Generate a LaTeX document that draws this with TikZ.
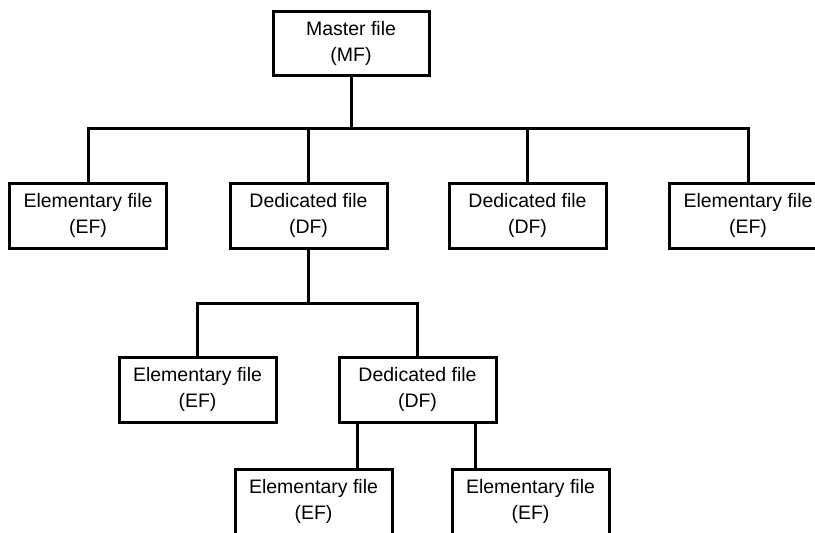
\documentclass[tikz,border=0pt]{standalone}
\usepackage{fontspec}
\setmainfont{Liberation Sans}
\begin{document}
\begin{tikzpicture}[x=1pt,y=-1pt,
  filebox/.style={draw=black, line width=3pt, fill=white, minimum width=157pt, minimum height=65pt,
    inner sep=0pt, align=center, font=\fontsize{19.5}{26}\selectfont},
  link/.style={line width=3pt, line cap=rect}]
\useasboundingbox (0,0) rectangle (815,533);
\clip (0,0) rectangle (815,533);
% junctions
\coordinate (j1) at (351,128);
\coordinate (j2) at (308.5,303);
\coordinate (c1) at (357,0);
\coordinate (c2) at (475,0);
% nodes
\node[filebox, minimum width=156pt, minimum height=64pt] (mf) at (351,43) {Master file\\(MF)};
\node[filebox] (ef1) at (88,215.5) {Elementary file\\(EF)};
\node[filebox] (df1) at (308.5,215.5) {Dedicated file\\(DF)};
\node[filebox] (df2) at (527.5,215.5) {Dedicated file\\(DF)};
\node[filebox] (ef2) at (748,215.5) {Elementary file\\(EF)};
\node[filebox] (ef3) at (197.5,389.5) {Elementary file\\(EF)};
\node[filebox] (df3) at (417.5,389.5) {Dedicated file\\(DF)};
\node[filebox] (ef4) at (313.5,501.5) {Elementary file\\(EF)};
\node[filebox] (ef5) at (530.5,501.5) {Elementary file\\(EF)};
% connectors
\draw[link] (mf.south) -- (j1);
\draw[link] (j1) -| (ef1.north);
\draw[link] (j1) -| (df1.north);
\draw[link] (j1) -| (df2.north);
\draw[link] (j1) -| (ef2.north);
\draw[link] (df1.south) -- (j2);
\draw[link] (j2) -| (ef3.north);
\draw[link] (j2) -| (df3.north);
\draw[link] (df3.south -| c1) -- (ef4.north -| c1);
\draw[link] (df3.south -| c2) -- (ef5.north -| c2);
\end{tikzpicture}
\end{document}
